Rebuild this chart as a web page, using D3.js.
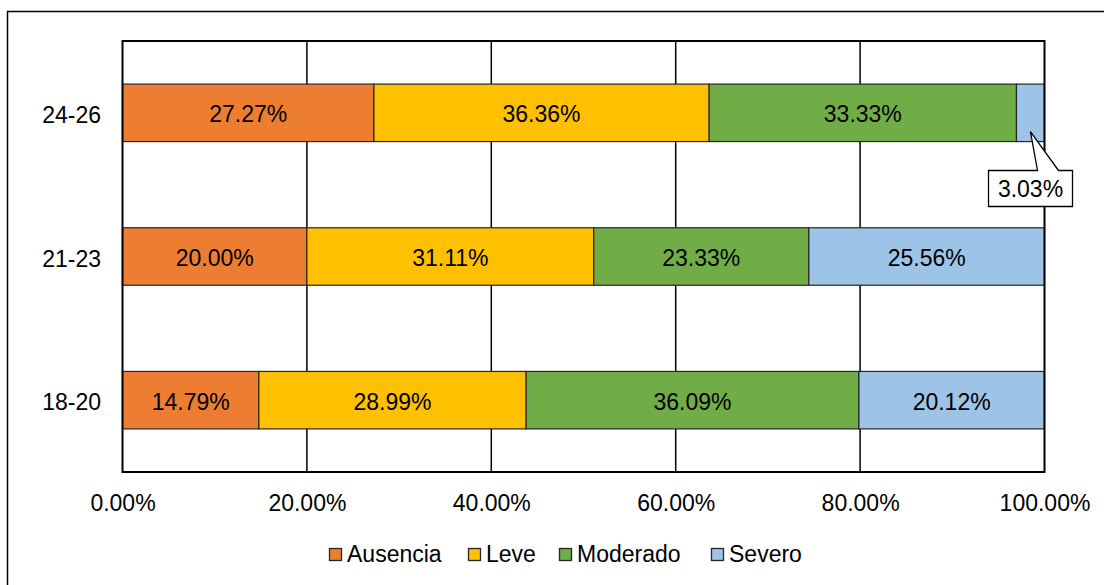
<!DOCTYPE html>
<html>
<head>
<meta charset="utf-8">
<script src="https://cdn.jsdelivr.net/npm/d3@7/dist/d3.min.js"></script>
<style>
  html, body { margin: 0; padding: 0; background: #fff; }
  svg { display: block; }
  text { font-family: "Liberation Sans", Arial, sans-serif; fill: #000; }
</style>
</head>
<body>
<svg id="chart" width="1104" height="585"></svg>
<script>
// Age groups (top to bottom) and severity series
const categories = ["24-26", "21-23", "18-20"];
const seriesNames = ["Ausencia", "Leve", "Moderado", "Severo"];
const ausencia = [27.27, 20.00, 14.79];
const leve     = [36.36, 31.11, 28.99];
const moderado = [33.33, 23.33, 36.09];
const severo   = [3.03, 25.56, 20.12];
const tickValues = [0, 20, 40, 60, 80, 100];
const colors = ["#ED7D31", "#FFC000", "#70AD47", "#9DC3E6"];

const seriesValues = [ausencia, leve, moderado, severo];
const rows = categories.map((c, i) => {
  const r = { cat: c };
  seriesNames.forEach((s, j) => r[s] = seriesValues[j][i]);
  return r;
});

const svg = d3.select("#chart");
const W = 1104, H = 585;

// outer chart frame (runs past the right and bottom edges)
svg.append("rect")
  .attr("x", 7.5).attr("y", 11.5)
  .attr("width", W).attr("height", H)
  .attr("fill", "#fff").attr("stroke", "#000").attr("stroke-width", 1.5);

const plot = { left: 122.5, right: 1044.5, top: 41, bottom: 472 };

const x = d3.scaleLinear().domain([0, 100]).range([plot.left, plot.right]);
const y = d3.scaleBand().domain(categories)
  .range([plot.top, plot.bottom]).paddingInner(0.6).paddingOuter(0.3);

// vertical gridlines
svg.append("g").selectAll("line").data(tickValues.slice(1, -1)).join("line")
  .attr("x1", d => x(d)).attr("x2", d => x(d))
  .attr("y1", plot.top).attr("y2", plot.bottom)
  .attr("stroke", "#000").attr("stroke-width", 1.5);

// stacked bars
const stack = d3.stack().keys(seriesNames)(rows);
const layers = svg.append("g").selectAll("g").data(stack).join("g")
  .attr("fill", (d, i) => colors[i]);

layers.selectAll("rect").data(d => d).join("rect")
  .attr("x", d => x(d[0]))
  .attr("y", d => y(d.data.cat))
  .attr("width", d => x(d[1]) - x(d[0]))
  .attr("height", y.bandwidth())
  .attr("stroke", "#262626").attr("stroke-width", 1.2);

// plot area border
svg.append("rect")
  .attr("x", plot.left).attr("y", plot.top)
  .attr("width", plot.right - plot.left).attr("height", plot.bottom - plot.top)
  .attr("fill", "none").attr("stroke", "#000").attr("stroke-width", 2);

// value labels inside segments (small segments get a callout)
const labelG = svg.append("g");
stack.forEach((layer, i) => {
  layer.forEach(d => {
    const v = d.data[seriesNames[i]];
    const cx = (x(d[0]) + x(d[1])) / 2;
    const cy = y(d.data.cat) + y.bandwidth() / 2;
    if (x(d[1]) - x(d[0]) > 60) {
      labelG.append("text")
        .attr("x", cx).attr("y", cy + 9.5)
        .attr("text-anchor", "middle")
        .attr("font-size", 23)
        .text(v.toFixed(2) + "%");
    } else {
      // callout box below the bar with a pointer to the segment
      const tipX = cx, tipY = y(d.data.cat) + y.bandwidth() - 10;
      const bx = 988.5, by = 170.5, bw = 84, bh = 36;
      const p1 = 1037.5, p2 = 1058.5;
      const path = `M${bx},${by} L${p1},${by} L${tipX},${tipY} L${p2},${by} L${bx + bw},${by} L${bx + bw},${by + bh} L${bx},${by + bh} Z`;
      labelG.append("path").attr("d", path)
        .attr("fill", "#fff").attr("stroke", "#000").attr("stroke-width", 1.3);
      labelG.append("text")
        .attr("x", bx + bw / 2).attr("y", by + bh / 2 + 8.5)
        .attr("text-anchor", "middle")
        .attr("font-size", 23)
        .text(v.toFixed(2) + "%");
    }
  });
});

// x axis tick labels
const xAxis = d3.axisBottom(x).tickValues(tickValues)
  .tickSize(0).tickPadding(0).tickFormat(d => d.toFixed(2) + "%");
const gx = svg.append("g").attr("transform", `translate(0,${plot.bottom})`).call(xAxis);
gx.select(".domain").remove();
gx.selectAll("text")
  .attr("font-family", "Liberation Sans, Arial, sans-serif")
  .attr("font-size", 23).attr("fill", "#000")
  .attr("dy", null).attr("y", 38.5);

// y axis category labels
const yAxis = d3.axisLeft(y).tickSize(0).tickPadding(0);
const gy = svg.append("g").attr("transform", `translate(${plot.left - 21.5},0)`).call(yAxis);
gy.select(".domain").remove();
gy.selectAll("text")
  .attr("font-family", "Liberation Sans, Arial, sans-serif")
  .attr("font-size", 23).attr("fill", "#000")
  .attr("dy", null).attr("x", 0).attr("y", 10);

// legend
const legendX = [329.5, 468.5, 559.5, 711.5];
const legend = svg.append("g");
seriesNames.forEach((s, i) => {
  legend.append("rect")
    .attr("x", legendX[i]).attr("y", 548.5)
    .attr("width", 12).attr("height", 12)
    .attr("fill", colors[i]).attr("stroke", "#262626").attr("stroke-width", 1.3);
  legend.append("text")
    .attr("x", legendX[i] + 17.5).attr("y", 561.5)
    .attr("font-size", 23)
    .text(s);
});
</script>
</body>
</html>
